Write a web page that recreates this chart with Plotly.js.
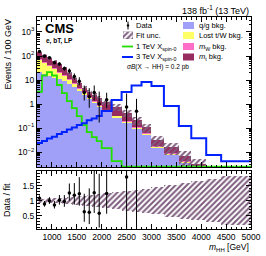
<!DOCTYPE html>
<html><head><meta charset="utf-8">
<script src="https://cdn.plot.ly/plotly-3.0.1.min.js"></script>
<style>html,body{margin:0;padding:0;background:#fff;}#chart{width:266px;height:256px;}</style>
</head><body><div id="chart"></div>
<script>
// ---- data (events / 100 GeV) ----
const binEdges = [700,800,900,1000,1100,1200,1300,1400,1500,1600,1700,1800,1900,2000,2200,2400,2600,2800,3000,3250,3550,3800,4100,4400,5000];
const qgBkg   = [21.5,17.8,14.7,12.7,11.0,9.1,6.8,5.1,3.5,2.37,1.62,1.10,0.75,0.46,0.274,0.162,0.091,0.051,0.0147,0.0075,0.0035,0.0015,0.0008,0.0004];
const lostTWBkg = [46.6,33.3,23.6,16.0,9.5,5.6,3.2,1.7,0.74,0.50,0.21,0.15,0.099,0.062,0.036,0.021,0.012,0.0068,0.0023,0.0012,0.00055,0.0003,0.00015,0.0001];
const mWBkg   = [6.9,5.1,3.9,2.9,2.1,1.5,1.0,0.69,0.42,0.29,0.13,0.08,0.06,0.036,0.022,0.013,0.007,0.004,0.0008,0.0004,0.0002,0.0001,0.00005,0.00003];
const mtBkg   = [67.6,53.8,42.8,30.3,22.5,14.5,8.0,4.3,2.65,1.62,1.29,1.04,0.82,0.65,0.42,0.226,0.105,0.048,0.0138,0.0071,0.0026,0.0013,0.0006,0.0003];
const fitRelUnc = [0.07,0.07,0.08,0.08,0.09,0.10,0.11,0.13,0.15,0.16,0.18,0.20,0.22,0.25,0.29,0.33,0.37,0.41,0.46,0.53,0.60,0.66,0.73,0.82];
const sig1TeV = [3.25,15.4,21.5,15.4,6.2,2.87,1.33,0.68,0.316,0.133,0.068,0.042,0.0287,0.0147,0.0042,0.0025,0.0025,0.0025,0.0025,0.0025,0.0025,0.0025,0.0025,0.0025];
const sig3TeV = [0.024,0.029,0.037,0.044,0.057,0.068,0.088,0.105,0.135,0.16,0.21,0.25,0.32,0.51,1.47,3.16,5.9,8.25,5.6,0.83,0.121,0.038,0.0075,0.0042];
const dataObs = [155,98,85,53,46,30,24,14,9,3,2,3,1,1.5,null,0.76,0.5,null,null,null,null,null,null,null];
const dataErrLo = [12.4,9.9,9.2,7.3,6.8,5.5,4.9,3.7,2.9,1.6,1.3,1.6,0.83,0.82,null,0.759,0.499,null,null,null,null,null,null,null];
const dataErrHi = [13.4,10.9,10.2,8.3,7.8,6.5,6.0,4.8,4.1,2.9,2.6,2.9,2.3,1.46,null,2.0,1.15,null,null,null,null,null,null,null];
const yTickVals = [0.01,0.1,1,10,100,1000];
const yTickText = ['10<sup>\u22122</sup>','10<sup>\u22121</sup>','1','10','10<sup>2</sup>','10<sup>3</sup>'];
const rTickVals = [0.5,1,1.5];
const rTickText = ['0.5','1','1.5'];

// ---- derived ----
const n = binEdges.length-1;
const centers=[], widths=[];
for(let i=0;i<n;i++){centers.push((binEdges[i]+binEdges[i+1])/2); widths.push(binEdges[i+1]-binEdges[i]);}
const cumQG = qgBkg.slice();
const cumLost = cumQG.map((v,i)=>v+lostTWBkg[i]);
const cumMW = cumLost.map((v,i)=>v+mWBkg[i]);
const total = cumMW.map((v,i)=>v+mtBkg[i]);
const step = a => a.concat([a[a.length-1]]);
const ratio = dataObs.map((v,i)=>v==null?null:v/total[i]);
const ratioLo = dataErrLo.map((v,i)=>v==null?null:v/total[i]);
const ratioHi = dataErrHi.map((v,i)=>v==null?null:v/total[i]);

const C_QG='#a0a0f8', C_LOST='#ffff66', C_MW='#ff6ec7', C_MT='#962d5e', C_HATCH='#7d5c7d';
const hatch = {shape:'/', fgcolor:C_HATCH, bgcolor:'rgba(0,0,0,0)', size:4, solidity:0.5, fillmode:'replace'};
const FONT = 'Liberation Sans, Arial, sans-serif';

function bars(y, color, xa, ya){
  return {type:'bar', x:centers, y:y, width:widths, xaxis:xa, yaxis:ya,
    marker:{color:color, line:{width:0}}, hoverinfo:'skip'};
}
const traces = [
  bars(total, C_MT,'x','y'),
  bars(cumMW, C_MW,'x','y'),
  bars(cumLost, C_LOST,'x','y'),
  bars(cumQG, C_QG,'x','y'),
  {type:'bar', x:centers, width:widths, base:total.map((t,i)=>t*(1-fitRelUnc[i])), y:total.map((t,i)=>2*t*fitRelUnc[i]),
   xaxis:'x', yaxis:'y', marker:{color:'rgba(0,0,0,0)', line:{width:0}, pattern:hatch}},
  {type:'scatter', mode:'lines', x:binEdges, y:step(sig1TeV), line:{shape:'hv', color:'#22dd00', width:1.8}, xaxis:'x', yaxis:'y'},
  {type:'scatter', mode:'lines', x:binEdges, y:step(sig3TeV), line:{shape:'hv', color:'#0022ff', width:2}, xaxis:'x', yaxis:'y'},
  {type:'scatter', mode:'markers', x:centers, y:dataObs, xaxis:'x', yaxis:'y',
   marker:{color:'#000', size:3.5},
   error_y:{type:'data', symmetric:false, array:dataErrHi, arrayminus:dataErrLo, color:'#000', thickness:1, width:0}},
  // ratio
  {type:'bar', x:centers, width:widths, base:fitRelUnc.map(r=>1-r), y:fitRelUnc.map(r=>2*r),
   xaxis:'x2', yaxis:'y2', marker:{color:'rgba(0,0,0,0)', line:{width:0}, pattern:hatch}},
  {type:'scatter', mode:'markers', x:centers, y:ratio, xaxis:'x2', yaxis:'y2',
   marker:{color:'#000', size:3.5},
   error_y:{type:'data', symmetric:false, array:ratioHi, arrayminus:ratioLo, color:'#000', thickness:1, width:0}},
  // legend hatch swatch
  {type:'bar', x:[0], y:[1], width:[1], xaxis:'x3', yaxis:'y3',
   marker:{color:'rgba(0,0,0,0)', line:{width:0.5,color:C_HATCH}, pattern:hatch}}
];

const L=37, R=15, T=17, B=27, W=266, H=256;
const pw=W-L-R, ph=H-T-B;
const px=x=>(x-L)/pw, py=y=>(H-B-y)/ph;

const minorLog=[];
for(let e=-3;e<=3;e++){for(let m=2;m<=9;m++){minorLog.push(m*Math.pow(10,e));}}

const axCommon = {showline:true, linecolor:'#000', linewidth:1, mirror:'allticks', ticks:'inside',
  ticklen:5, tickcolor:'#000', showgrid:false, zeroline:false,
  tickfont:{family:FONT, size:8.5, color:'#000'}};

const topBottom = py(167), botTop = py(171);
const layout = {
  width:W, height:H, margin:{l:L,r:R,t:T,b:B}, showlegend:false,
  paper_bgcolor:'#fff', plot_bgcolor:'#fff', barmode:'overlay', bargap:0,
  xaxis: Object.assign({}, axCommon, {domain:[0,1], anchor:'y', range:[700,5000], tick0:1000, dtick:500, showticklabels:false, matches:'x2',
    minor:{dtick:100, tick0:700, ticks:'inside', ticklen:2.5, tickcolor:'#000'}}),
  yaxis: Object.assign({}, axCommon, {domain:[topBottom,1], anchor:'x', type:'log', range:[Math.log10(0.0024), Math.log10(4200)],
    tickmode:'array', tickvals:yTickVals, ticktext:yTickText,
    minor:{tickmode:'array', tickvals:minorLog, ticks:'inside', ticklen:2.5, tickcolor:'#000'}}),
  xaxis2: Object.assign({}, axCommon, {domain:[0,1], anchor:'y2', range:[700,5000], tick0:1000, dtick:500, ticklabelstandoff:0,
    minor:{dtick:100, tick0:700, ticks:'inside', ticklen:2.5, tickcolor:'#000'}}),
  yaxis2: Object.assign({}, axCommon, {domain:[0,botTop], anchor:'x2', range:[0.05,2.0],
    tickmode:'array', tickvals:rTickVals, ticktext:rTickText,
    minor:{dtick:0.1, tick0:0, ticks:'inside', ticklen:2.5, tickcolor:'#000'}}),
  xaxis3: {domain:[px(123),px(133)], anchor:'y3', range:[-0.5,0.5], visible:false, fixedrange:true},
  yaxis3: {domain:[py(39),py(31.5)], anchor:'x3', range:[0,1], visible:false, fixedrange:true},
  annotations:[], shapes:[]
};
const A = layout.annotations, S = layout.shapes;
function txt(t, x, y, o){A.push(Object.assign({text:t, x:px(x), y:py(y), xref:'paper', yref:'paper', showarrow:false,
  xanchor:'left', yanchor:'middle', font:{family:FONT, size:7.5, color:'#000'}}, o||{}));}
// titles
txt('Events / 100 GeV', 7, 17, {textangle:-90, xanchor:'center', yanchor:'top', font:{family:FONT,size:9,color:'#000'}});
txt('Data / fit', 7, 200, {textangle:-90, xanchor:'center', yanchor:'middle', font:{family:FONT,size:9,color:'#000'}});
txt('<i>m</i><sub>HH</sub> [GeV]', 251, 248, {xanchor:'right', font:{family:FONT,size:8.5,color:'#000'}});
txt('138 fb<sup>-1</sup> (13 TeV)', 251, 10, {xanchor:'right', font:{family:FONT,size:9,color:'#000'}});
txt('<b>CMS</b>', 43, 28, {font:{family:FONT,size:13,color:'#000'}});
txt('<b>e, bT, LP</b>', 44, 41, {font:{family:FONT,size:6.5,color:'#000'}});
// legend left
const rows=[25.5,35.5,46.5,57];
txt('Data', 134, rows[0]);
txt('Fit unc.', 134, rows[1]);
txt('1 TeV X<sub>spin-0</sub>', 134, rows[2]);
txt('3 TeV X<sub>spin-0</sub>', 134, rows[3]);
txt('<i>\u03c3B</i>(X \u2192 HH) = 0.2 pb', 125, 67, {font:{family:FONT,size:6.5,color:'#000'}});
S.push({type:'line', xref:'paper', yref:'paper', x0:px(128), x1:px(128), y0:py(21.5), y1:py(29.5), line:{color:'#000',width:1}});
S.push({type:'circle', xref:'paper', yref:'paper', x0:px(126.8), x1:px(129.2), y0:py(26.7), y1:py(24.3), fillcolor:'#000', line:{width:0}});
S.push({type:'line', xref:'paper', yref:'paper', x0:px(122), x1:px(133), y0:py(rows[2]), y1:py(rows[2]), line:{color:'#22dd00',width:1.8}});
S.push({type:'line', xref:'paper', yref:'paper', x0:px(122), x1:px(133), y0:py(rows[3]), y1:py(rows[3]), line:{color:'#0022ff',width:2}});
// legend right
const rcols=[[C_QG,'q/g bkg.'],[C_LOST,'Lost t/W bkg.'],[C_MW,'<i>m</i><sub>W</sub> bkg.'],[C_MT,'<i>m</i><sub>t</sub> bkg.']];
rcols.forEach((c,i)=>{
  S.push({type:'rect', xref:'paper', yref:'paper', x0:px(183), x1:px(194), y0:py(rows[i]+3.5), y1:py(rows[i]-3.5), fillcolor:c[0], line:{width:0}});
  txt(c[1], 197, rows[i]);
});

Plotly.newPlot('chart', traces, layout, {staticPlot:true, displayModeBar:false});
</script></body></html>
